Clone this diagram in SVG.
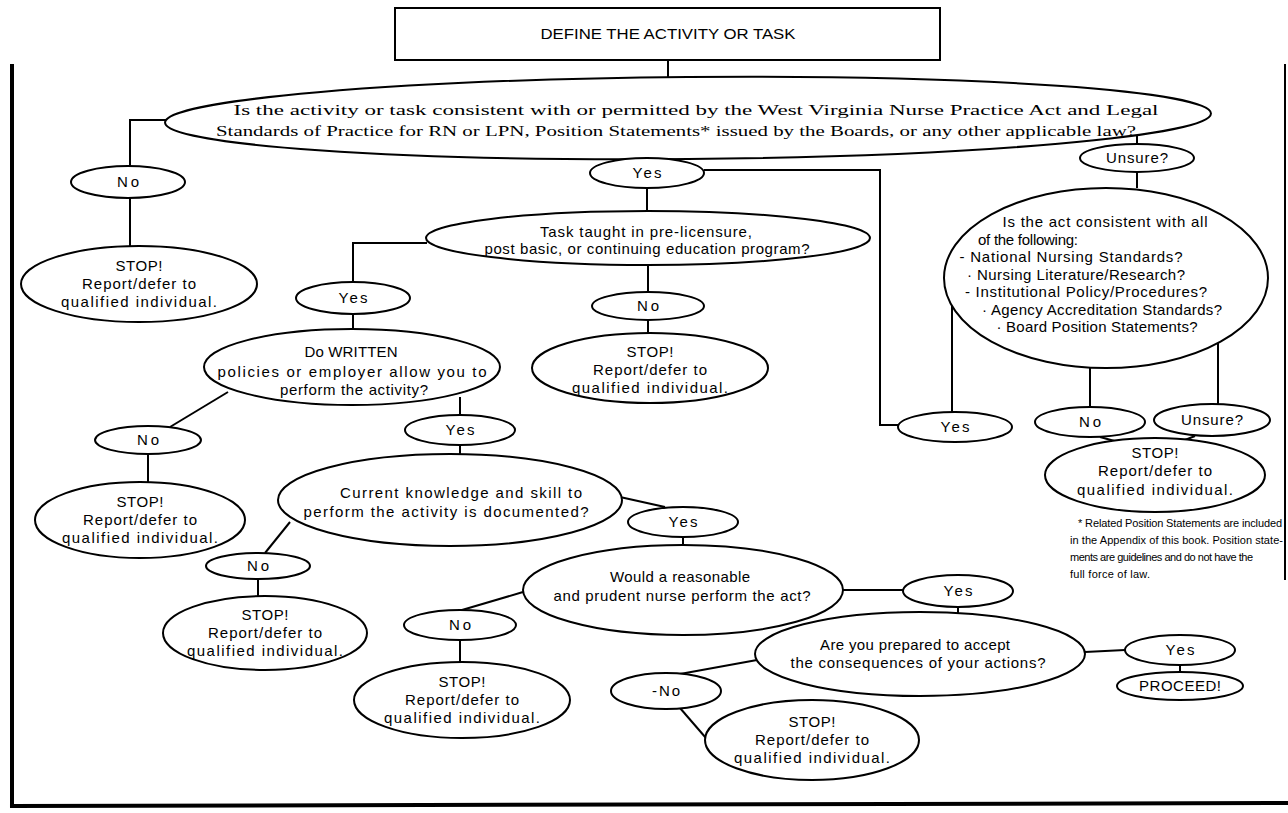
<svg xmlns="http://www.w3.org/2000/svg" width="1288" height="813" viewBox="0 0 1288 813">
<style>
ellipse, rect { fill:#fff; stroke:#000; stroke-width:2; }
#connectors line, #connectors polyline { stroke:#000; stroke-width:2; fill:none; }
#border line { stroke:#000; }
text { font-family:"Liberation Sans", Arial, sans-serif; font-size:15px; text-anchor:middle; fill:#000; }
text.s { font-family:"Liberation Serif", "Times New Roman", serif; font-size:15px; }
text.h { font-size:14px; }
text.f { font-size:11px; text-anchor:start; }
</style>
<rect x="0" y="0" width="1288" height="813" style="fill:#fff;stroke:none"/>
<g id="border">
  <line x1="12" y1="64" x2="12" y2="808" stroke-width="4"/>
  <line x1="10" y1="806" x2="1288" y2="803" stroke-width="4"/>
  <line x1="1285" y1="64" x2="1285" y2="580" stroke-width="2"/>
</g>
<g id="connectors">
  <line x1="668" y1="60" x2="668" y2="80"/>
  <polyline points="166,120 130,120 130,166"/>
  <line x1="130" y1="198" x2="130" y2="246"/>
  <polyline points="704,170 880,170 880,425 898,425"/>
  <line x1="647" y1="187" x2="647" y2="211"/>
  <polyline points="427,243 353,243 353,282"/>
  <line x1="648" y1="265" x2="648" y2="292"/>
  <line x1="648" y1="320" x2="648" y2="333"/>
  <line x1="353" y1="314" x2="353" y2="330"/>
  <line x1="228" y1="392" x2="170" y2="427"/>
  <line x1="148" y1="454" x2="148" y2="483"/>
  <line x1="460" y1="397" x2="460" y2="415"/>
  <line x1="460" y1="445" x2="460" y2="455"/>
  <line x1="290" y1="522" x2="265" y2="553"/>
  <line x1="258" y1="579" x2="258" y2="597"/>
  <line x1="620" y1="497" x2="665" y2="507"/>
  <line x1="683" y1="537" x2="683" y2="545"/>
  <line x1="523" y1="592" x2="462" y2="610"/>
  <line x1="460" y1="640" x2="460" y2="663"/>
  <line x1="843" y1="590" x2="903" y2="590"/>
  <line x1="958" y1="607" x2="958" y2="613"/>
  <line x1="1085" y1="652" x2="1125" y2="650"/>
  <line x1="1180" y1="665" x2="1180" y2="672"/>
  <line x1="757" y1="660" x2="680" y2="674"/>
  <line x1="680" y1="708" x2="712" y2="745"/>
  <line x1="1137" y1="128" x2="1137" y2="144"/>
  <line x1="1137" y1="172" x2="1137" y2="188"/>
  <line x1="952" y1="306" x2="952" y2="412"/>
  <line x1="1090" y1="367" x2="1090" y2="407"/>
  <line x1="1218" y1="343" x2="1218" y2="404"/>
  <line x1="1100" y1="437" x2="1140" y2="448"/>
  <line x1="1195" y1="436" x2="1170" y2="446"/>
</g>
<g id="define">
  <rect x="395" y="8" width="545" height="52"/>
  <text class="h" x="668" y="39" textLength="255" lengthAdjust="spacingAndGlyphs">DEFINE THE ACTIVITY OR TASK</text>
</g>
<g id="q-law">
  <ellipse cx="688" cy="118" rx="523" ry="41" transform="rotate(-0.5 688 118)"/>
  <text class="s" x="696" y="115" textLength="925" lengthAdjust="spacingAndGlyphs">Is the activity or task consistent with or permitted by the West Virginia Nurse Practice Act and Legal</text>
  <text class="s" x="676" y="136" textLength="920" lengthAdjust="spacingAndGlyphs">Standards of Practice for RN or LPN, Position Statements* issued by the Boards, or any other applicable law?</text>
</g>
<g id="no-law">
  <ellipse cx="128" cy="182" rx="57" ry="16"/>
  <text x="128" y="187" textLength="22">No</text>
</g>
<g id="stop-law">
  <ellipse cx="139" cy="284" rx="118" ry="38"/>
  <text x="139" y="271" textLength="47">STOP!</text>
  <text x="139" y="289" textLength="114">Report/defer to</text>
  <text x="139" y="307" textLength="156">qualified individual.</text>
</g>
<g id="yes-law">
  <ellipse cx="647" cy="173" rx="57" ry="15"/>
  <text x="647" y="178" textLength="29">Yes</text>
</g>
<g id="q-taught">
  <ellipse cx="648" cy="238" rx="222" ry="27"/>
  <text x="646" y="237" textLength="212">Task taught in pre-licensure,</text>
  <text x="647" y="254" textLength="325">post basic, or continuing education program?</text>
</g>
<g id="no-taught">
  <ellipse cx="648" cy="306" rx="56" ry="14"/>
  <text x="648" y="311" textLength="22">No</text>
</g>
<g id="stop-taught">
  <ellipse cx="650" cy="368" rx="118" ry="35"/>
  <text x="650" y="357" textLength="47">STOP!</text>
  <text x="650" y="375" textLength="114">Report/defer to</text>
  <text x="650" y="393" textLength="156">qualified individual.</text>
</g>
<g id="yes-taught">
  <ellipse cx="353" cy="298" rx="57" ry="16"/>
  <text x="353" y="303" textLength="29">Yes</text>
</g>
<g id="q-written">
  <ellipse cx="352" cy="367" rx="148" ry="38"/>
  <text x="351" y="357" textLength="93">Do WRITTEN</text>
  <text x="352" y="377" textLength="269">policies or employer allow you to</text>
  <text x="354" y="395" textLength="148">perform the activity?</text>
</g>
<g id="no-written">
  <ellipse cx="148" cy="440" rx="53" ry="14"/>
  <text x="148" y="445" textLength="22">No</text>
</g>
<g id="stop-written">
  <ellipse cx="140" cy="520" rx="105" ry="38"/>
  <text x="140" y="507" textLength="47">STOP!</text>
  <text x="140" y="525" textLength="114">Report/defer to</text>
  <text x="140" y="543" textLength="156">qualified individual.</text>
</g>
<g id="yes-written">
  <ellipse cx="460" cy="430" rx="55" ry="15"/>
  <text x="460" y="435" textLength="29">Yes</text>
</g>
<g id="q-knowledge">
  <ellipse cx="450" cy="500" rx="172" ry="46"/>
  <text x="461" y="498" textLength="242">Current knowledge and skill to</text>
  <text x="446" y="517" textLength="285">perform the activity is documented?</text>
</g>
<g id="no-knowledge">
  <ellipse cx="258" cy="566" rx="52" ry="13"/>
  <text x="258" y="571" textLength="22">No</text>
</g>
<g id="stop-knowledge">
  <ellipse cx="265" cy="633" rx="102" ry="37"/>
  <text x="265" y="620" textLength="47">STOP!</text>
  <text x="265" y="638" textLength="114">Report/defer to</text>
  <text x="265" y="656" textLength="156">qualified individual.</text>
</g>
<g id="yes-knowledge">
  <ellipse cx="683" cy="522" rx="55" ry="15"/>
  <text x="683" y="527" textLength="29">Yes</text>
</g>
<g id="q-prudent">
  <ellipse cx="683" cy="590" rx="160" ry="45"/>
  <text x="680" y="582" textLength="140">Would a reasonable</text>
  <text x="682" y="601" textLength="257">and prudent nurse perform the act?</text>
</g>
<g id="no-prudent">
  <ellipse cx="460" cy="625" rx="56" ry="15"/>
  <text x="460" y="630" textLength="22">No</text>
</g>
<g id="stop-prudent">
  <ellipse cx="462" cy="700" rx="108" ry="38"/>
  <text x="462" y="687" textLength="47">STOP!</text>
  <text x="462" y="705" textLength="114">Report/defer to</text>
  <text x="462" y="723" textLength="156">qualified individual.</text>
</g>
<g id="yes-prudent">
  <ellipse cx="958" cy="591" rx="55" ry="16"/>
  <text x="958" y="596" textLength="29">Yes</text>
</g>
<g id="q-consequences">
  <ellipse cx="920" cy="654" rx="165" ry="42"/>
  <text x="915" y="650" textLength="190">Are you prepared to accept</text>
  <text x="918" y="668" textLength="255">the consequences of your actions?</text>
</g>
<g id="yes-consequences">
  <ellipse cx="1180" cy="650" rx="55" ry="15"/>
  <text x="1180" y="655" textLength="29">Yes</text>
</g>
<g id="proceed">
  <ellipse cx="1180" cy="686" rx="63" ry="14"/>
  <text x="1180" y="691" textLength="82">PROCEED!</text>
</g>
<g id="no-consequences">
  <ellipse cx="666" cy="691" rx="55" ry="18"/>
  <text x="666" y="696" textLength="28">-No</text>
</g>
<g id="stop-consequences">
  <ellipse cx="812" cy="740" rx="107" ry="40"/>
  <text x="812" y="727" textLength="47">STOP!</text>
  <text x="812" y="745" textLength="114">Report/defer to</text>
  <text x="812" y="763" textLength="156">qualified individual.</text>
</g>
<g id="unsure-law">
  <ellipse cx="1137" cy="158" rx="57" ry="14"/>
  <text x="1137" y="163" textLength="62">Unsure?</text>
</g>
<g id="q-standards">
  <ellipse cx="1106" cy="278" rx="162" ry="90"/>
  <text x="1105" y="227" textLength="205">Is the act consistent with all</text>
  <text x="1028" y="245" textLength="100">of the following:</text>
  <text x="1071" y="262" textLength="223">- National Nursing Standards?</text>
  <text x="1076" y="280" textLength="218">· Nursing Literature/Research?</text>
  <text x="1086" y="297" textLength="242">- Institutional Policy/Procedures?</text>
  <text x="1102" y="315" textLength="240">· Agency Accreditation Standards?</text>
  <text x="1097" y="332" textLength="201">· Board Position Statements?</text>
</g>
<g id="yes-standards">
  <ellipse cx="955" cy="427" rx="57" ry="15"/>
  <text x="955" y="432" textLength="29">Yes</text>
</g>
<g id="no-standards">
  <ellipse cx="1090" cy="422" rx="55" ry="15"/>
  <text x="1090" y="427" textLength="22">No</text>
</g>
<g id="unsure-standards">
  <ellipse cx="1212" cy="420" rx="58" ry="16"/>
  <text x="1212" y="425" textLength="62">Unsure?</text>
</g>
<g id="stop-standards">
  <ellipse cx="1155" cy="475" rx="110" ry="37"/>
  <text x="1155" y="458" textLength="47">STOP!</text>
  <text x="1155" y="476" textLength="114">Report/defer to</text>
  <text x="1155" y="495" textLength="156">qualified individual.</text>
</g>
<g id="footnote">
  <text class="f" x="1078" y="527" textLength="204">*  Related Position Statements are included</text>
  <text class="f" x="1070" y="544" textLength="213">in the Appendix of this book.  Position state-</text>
  <text class="f" x="1070" y="561" textLength="183">ments are guidelines and do not have the</text>
  <text class="f" x="1070" y="578" textLength="80">full force of law.</text>
</g>
</svg>
